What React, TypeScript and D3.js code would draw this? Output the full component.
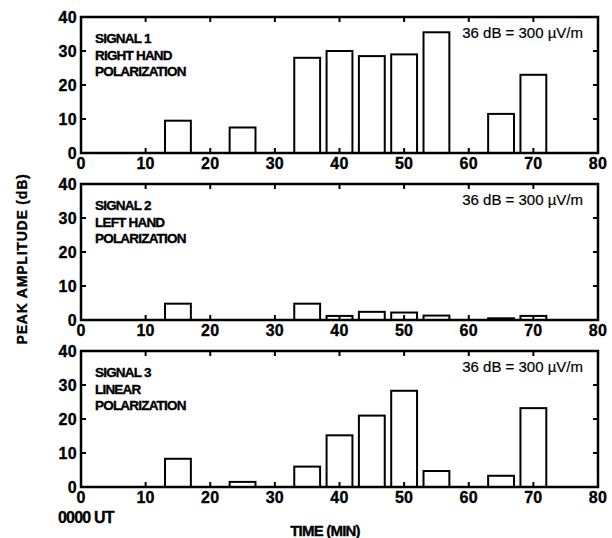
import React from "react";
import * as d3 from "d3";

// Time bins (minutes after 0000 UT), each bar spans 4 minutes centred on the bin
const binCenters = [15, 25, 35, 40, 45, 50, 55, 65, 70];
const signal1 = [9.5, 7.5, 28, 30, 28.5, 29, 35.5, 11.5, 23];
const signal2 = [4.8, 0, 4.8, 1.2, 2.4, 2.2, 1.3, 0.5, 1.2];
const signal3 = [8.3, 1.5, 6, 15.2, 21, 28.3, 4.7, 3.3, 23.2];

const panelTitles = [
  ["SIGNAL 1", "RIGHT HAND", "POLARIZATION"],
  ["SIGNAL 2", "LEFT HAND", "POLARIZATION"],
  ["SIGNAL 3", "LINEAR", "POLARIZATION"],
];
const seriesList = [signal1, signal2, signal3];

const xTicks = [0, 10, 20, 30, 40, 50, 60, 70, 80];
const yTicks = [0, 10, 20, 30, 40];
const refNote = "36 dB = 300 \u00B5V/m";

const W = 612;
const H = 538;
const left = 81;
const right = 598;
const panelTops = [17, 184, 351];
const panelH = 136;
const barHalf = 2;
const tickLen = 5;
const font = "'Liberation Sans', Arial, Helvetica, sans-serif";

// heavier rendering for the bold lettering
const heavy = { stroke: "#000", strokeWidth: 0.35 };

export default function App() {
  const x = d3.scaleLinear().domain([0, 80]).range([left, right]);

  return (
    <svg
      width={W}
      height={H}
      style={{ position: "absolute", left: 0, top: 0, background: "#fff" }}
      fontFamily={font}
    >
      {seriesList.map((series, pi) => {
        const top = panelTops[pi];
        const y = d3.scaleLinear().domain([0, 40]).range([top + panelH, top]);
        const bottom = top + panelH;
        return (
          <g key={pi}>
            {/* bars */}
            {series.map((v, i) => {
              const c = binCenters[i];
              if (v <= 0) return null;
              const x0 = x(c - barHalf);
              const x1 = x(c + barHalf);
              return (
                <rect
                  key={i}
                  x={x0}
                  y={y(v)}
                  width={x1 - x0}
                  height={bottom - y(v)}
                  fill="#fff"
                  stroke="#000"
                  strokeWidth={2}
                />
              );
            })}
            {/* frame */}
            <rect
              x={left}
              y={top}
              width={right - left}
              height={panelH}
              fill="none"
              stroke="#000"
              strokeWidth={2.5}
            />
            {/* inward ticks on top and bottom */}
            {xTicks.slice(1, -1).map((t) => (
              <g key={"xt" + t}>
                <line x1={x(t)} x2={x(t)} y1={bottom} y2={bottom - tickLen} stroke="#000" strokeWidth={2} />
                <line x1={x(t)} x2={x(t)} y1={top} y2={top + tickLen} stroke="#000" strokeWidth={2} />
              </g>
            ))}
            {/* inward ticks on left and right */}
            {yTicks.slice(1, -1).map((t) => (
              <g key={"yt" + t}>
                <line x1={left} x2={left + tickLen} y1={y(t)} y2={y(t)} stroke="#000" strokeWidth={2} />
                <line x1={right} x2={right - tickLen} y1={y(t)} y2={y(t)} stroke="#000" strokeWidth={2} />
              </g>
            ))}
            {/* x tick labels */}
            {xTicks.map((t) => (
              <text
                key={"xl" + t}
                x={x(t)}
                y={bottom + 16}
                textAnchor="middle"
                fontSize={16}
                fontWeight="bold"
                letterSpacing={0.3}
                {...heavy}
              >
                {t}
              </text>
            ))}
            {/* y tick labels */}
            {yTicks.map((t) => (
              <text
                key={"yl" + t}
                x={77}
                y={y(t) + 5.5}
                textAnchor="end"
                fontSize={16}
                fontWeight="bold"
                letterSpacing={0.3}
                {...heavy}
              >
                {t}
              </text>
            ))}
            {/* panel title */}
            {panelTitles[pi].map((line, li) => (
              <text
                key={"pt" + li}
                x={95}
                y={top + 26 + li * 16.5}
                fontSize={13.5}
                fontWeight="bold"
                letterSpacing={-0.8}
                {...heavy}
              >
                {line}
              </text>
            ))}
            {/* reference level note */}
            <text x={583} y={top + 21} textAnchor="end" fontSize={15} stroke="#000" strokeWidth={0.2}>
              {refNote}
            </text>
          </g>
        );
      })}
      {/* axis titles */}
      <text
        transform={`translate(27, 259) rotate(-90)`}
        textAnchor="middle"
        fontSize={14}
        fontWeight="bold"
        letterSpacing={0.8}
        {...heavy}
      >
        PEAK AMPLITUDE (dB)
      </text>
      <text x={58} y={523} fontSize={16} fontWeight="bold" letterSpacing={-0.8} {...heavy}>
        0000 UT
      </text>
      <text x={325} y={536} textAnchor="middle" fontSize={15} fontWeight="bold" letterSpacing={-0.8} {...heavy}>
        TIME (MIN)
      </text>
    </svg>
  );
}
